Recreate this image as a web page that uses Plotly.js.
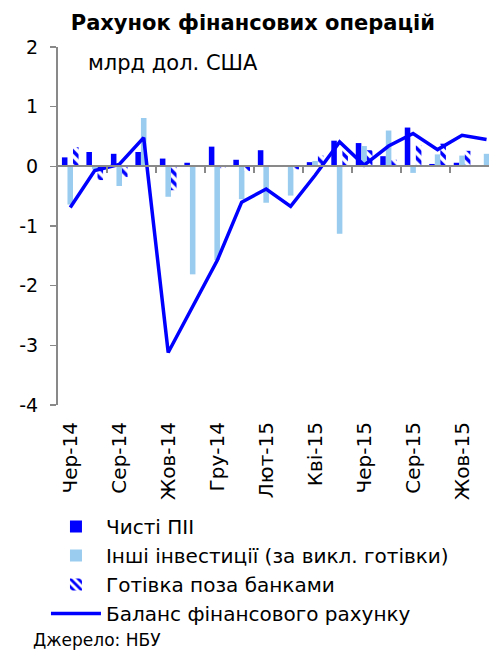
<!DOCTYPE html>
<html>
<head>
<meta charset="utf-8">
<script src="https://cdn.plot.ly/plotly-3.0.1.min.js"></script>
<style>html,body{margin:0;padding:0;background:#fff;}#chart{width:489px;height:650px;}</style>
</head>
<body>
<div id="chart"></div>
<script>
// Months (Jun-14 .. Nov-15)
const months = ["Чер-14","Лип-14","Сер-14","Вер-14","Жов-14","Лис-14","Гру-14","Січ-15","Лют-15","Бер-15","Кві-15","Тра-15","Чер-15","Лип-15","Сер-15","Вер-15","Жов-15","Лис-15"];
// Series values, bn USD
const netFDI      = [0.15, 0.24, 0.21, 0.24, 0.13, 0.06, 0.33, 0.11, 0.27, 0.00, 0.07, 0.43, 0.39, 0.17, 0.65, 0.04, 0.06, 0.01];
const otherInv    = [-0.64, -0.05, -0.33, 0.81, -0.51, -1.81, -1.57, -0.55, -0.61, -0.49, 0.09, -1.13, 0.34, 0.60, -0.11, 0.20, 0.18, 0.21];
const cashOutside = [0.32, -0.23, -0.18, 0.00, -0.40, 0.00, -0.03, -0.08, 0.00, -0.05, 0.18, 0.27, 0.27, 0.11, 0.35, 0.38, 0.26, 0.00];
const finBalance  = [-0.69, -0.07, 0.03, 0.48, -3.12, -2.35, -1.58, -0.60, -0.38, -0.67, -0.15, 0.41, 0.02, 0.34, 0.55, 0.28, 0.52, 0.45];
// Tick labels
const tickIdx = months.map((m, i) => i).filter(i => i % 2 === 0);
const tickLabels = tickIdx.map(i => months[i]);
const yTickVals = [2, 1, 0, -1, -2, -3, -4];
const yTickLabels = ["2", "1", "0", "-1", "-2", "-3", "-4"];
const boundaryTicks = months.map((m, i) => i + 1.5).filter(v => v < months.length - 1 && ((v - 1.5) % 2 === 0));

const names = ["Чисті ПІІ", "Інші інвестиції (за викл. готівки)", "Готівка поза банками", "Баланс фінансового рахунку"];
const x = months.map((m, i) => i);
const FONT = "DejaVu Sans, Verdana, sans-serif";
const GRAY = "#898989";

const traces = [
  {type: "bar", x: x, y: netFDI, name: names[0], legendgroup: "a",
   marker: {color: "#0000FF", line: {width: 0}}, hoverinfo: "skip"},
  {type: "bar", x: x, y: otherInv, name: names[1], legendgroup: "b",
   marker: {color: "#99CCEE", line: {width: 0}}, hoverinfo: "skip"},
  {type: "bar", x: x, y: cashOutside, name: names[2], legendgroup: "c",
   marker: {color: "#FFFFFF", line: {width: 0},
            pattern: {shape: "\\", fgcolor: "#0000FF", bgcolor: "#FFFFFF", size: 7, solidity: 0.5}},
   hoverinfo: "skip"},
  {type: "scatter", mode: "lines", x: x, y: finBalance, name: names[3], legendgroup: "d",
   line: {color: "#0000FF", width: 3.5}, hoverinfo: "skip"},
  // invisible helper on the overlaying axis (zero line with boundary ticks)
  {type: "scatter", mode: "none", x: [-0.5], y: [0], xaxis: "x2", showlegend: false, hoverinfo: "skip"}
];

const layout = {
  width: 489, height: 650,
  margin: {l: 58, r: 0, t: 47, b: 245, autoexpand: false},
  paper_bgcolor: "#FFFFFF", plot_bgcolor: "#FFFFFF",
  font: {family: FONT, size: 20, color: "#000000"},
  title: {text: "<b>Рахунок фінансових операцій</b>", x: 0.517, xanchor: "center",
          xref: "container", y: 0.9646, yanchor: "middle", yref: "container",
          font: {family: FONT, size: 21, color: "#000"}},
  barmode: "group", bargap: 0.32, bargroupgap: 0,
  showlegend: true,
  legend: {xref: "container", yref: "container", x: 0.094, y: 1 - 507/650, xanchor: "left", yanchor: "top",
           orientation: "v", traceorder: "grouped", tracegroupgap: 0, itemwidth: 50,
           font: {family: FONT, size: 20, color: "#000"}, bgcolor: "rgba(0,0,0,0)", borderwidth: 0},
  xaxis: {range: [-0.5, 17.1], tickmode: "array", tickvals: tickIdx, ticktext: tickLabels,
          tickangle: -90, ticks: "", showline: false, showgrid: false, zeroline: false,
          ticklabelstandoff: 12,
          automargin: false, tickfont: {family: FONT, size: 20, color: "#000"}, fixedrange: true},
  xaxis2: {overlaying: "x", anchor: "free", position: 4/6, range: [-0.5, 17.1],
           tickmode: "array", tickvals: boundaryTicks, showticklabels: false, automargin: false,
           ticks: "outside", ticklen: 6, tickwidth: 1.5, tickcolor: GRAY,
           showline: true, linecolor: GRAY, linewidth: 2, showgrid: false, zeroline: false},
  yaxis: {range: [-4, 2], tickmode: "array", tickvals: yTickVals, ticktext: yTickLabels,
          ticks: "outside", ticklen: 6, tickwidth: 1.5, tickcolor: GRAY, automargin: false,
          showline: true, linecolor: GRAY, linewidth: 2, showgrid: false, zeroline: false,
          ticklabelstandoff: 8, tickfont: {family: FONT, size: 19, color: "#000"}},
  annotations: [
    {text: "млрд дол. США", xref: "paper", yref: "paper", x: (86-58)/431, y: (405-63)/358,
     xanchor: "left", yanchor: "middle", showarrow: false, font: {family: FONT, size: 21, color: "#000"}},
    {text: "Джерело: НБУ", xref: "paper", yref: "paper", x: (31-58)/431, y: (405-640)/358,
     xanchor: "left", yanchor: "middle", showarrow: false, font: {family: FONT, size: 17, color: "#000"}}
  ]
};

Plotly.newPlot("chart", traces, layout, {staticPlot: true, displayModeBar: false});
</script>
</body>
</html>
